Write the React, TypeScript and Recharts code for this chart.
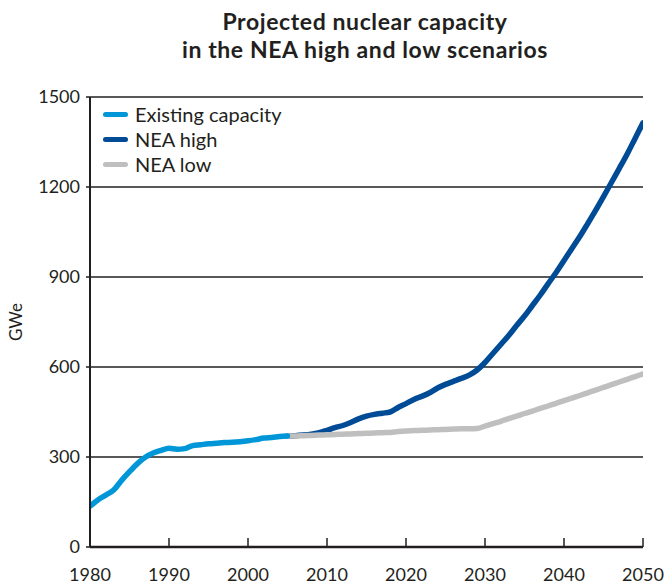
import { LineChart, Line, XAxis, YAxis, CartesianGrid } from "recharts";

const existingYears = [
  1980, 1981, 1982, 1983, 1984, 1985, 1986, 1987, 1988, 1989, 1990, 1991, 1992,
  1993, 1994, 1995, 1996, 1997, 1998, 1999, 2000, 2001, 2002, 2003, 2004, 2005,
];
const existingValues = [
  136, 157, 173, 190, 222, 251, 278, 299, 313, 322, 329, 326, 328, 338, 341, 344,
  346, 348, 349, 351, 354, 358, 363, 365, 368, 370,
];

const projectionYears = [
  2005, 2006, 2007, 2008, 2009, 2010, 2011, 2012, 2013, 2014, 2015, 2016, 2017,
  2018, 2019, 2020, 2021, 2022, 2023, 2024, 2025, 2026, 2027, 2028, 2029, 2030,
  2031, 2032, 2033, 2034, 2035, 2036, 2037, 2038, 2039, 2040, 2041, 2042, 2043,
  2044, 2045, 2046, 2047, 2048, 2049, 2050,
];
const highValues = [
  370, 371, 373, 376, 381, 389, 398, 405, 415, 427, 436, 442, 446, 450, 465, 478,
  492, 502, 514, 530, 542, 552, 562, 573, 590, 615, 645, 675, 705, 738, 770, 805,
  840, 878, 915, 955, 995, 1035, 1078, 1122, 1168, 1215, 1262, 1310, 1362, 1414,
];
const lowValues = [
  370, 370, 371, 372, 373, 374, 375, 376, 377, 378, 379, 380, 381, 382, 385, 387,
  388, 389, 390, 391, 392, 393, 394, 394, 395, 403, 411, 419, 428, 436, 445, 453,
  462, 470, 479, 488, 496, 505, 514, 523, 532, 541, 550, 559, 568, 577,
];

const xTicks = [1980, 1990, 2000, 2010, 2020, 2030, 2040, 2050];
const yTicks = [0, 300, 600, 900, 1200, 1500];

const seriesNames = ["Existing capacity", "NEA high", "NEA low"];
const seriesColors = ["#0096d8", "#004b96", "#bfbfbf"];

const titleLines = ["Projected nuclear capacity", "in the NEA high and low scenarios"];

const FONT = "Lato, 'Noto Sans', sans-serif";
const INK = "#231f20";

type Row = { year: number; existing?: number; high?: number; low?: number };

const rowMap = new Map<number, Row>();
existingYears.forEach((y, i) => {
  rowMap.set(y, { ...(rowMap.get(y) || { year: y }), existing: existingValues[i] });
});
projectionYears.forEach((y, i) => {
  rowMap.set(y, {
    ...(rowMap.get(y) || { year: y }),
    high: highValues[i],
    low: lowValues[i],
  });
});
const data: Row[] = Array.from(rowMap.values()).sort((a, b) => a.year - b.year);

const TICK_MARGIN = 28;

function XTick(props: any) {
  const { x, y, payload } = props;
  const axisY = y - TICK_MARGIN;
  return (
    <g>
      <line x1={x} x2={x} y1={axisY} y2={axisY - 9} stroke={INK} strokeWidth={1.5} />
      <text x={x} y={y} dy="0.35em" textAnchor="middle" fontSize={18} fill={INK} fontFamily={FONT}>
        {payload.value}
      </text>
    </g>
  );
}

function LegendBox() {
  return (
    <div
      style={{
        position: "absolute",
        left: 103,
        top: 102,
        fontFamily: FONT,
        fontSize: 20,
        color: INK,
        lineHeight: "25px",
      }}
    >
      {seriesNames.map((name, i) => (
        <div key={name} style={{ display: "flex", alignItems: "center" }}>
          <span
            style={{
              display: "inline-block",
              width: 25,
              height: 5,
              borderRadius: 3,
              background: seriesColors[i],
              marginRight: 7,
            }}
          />
          {name}
        </div>
      ))}
    </div>
  );
}

export default function App() {
  return (
    <div style={{ position: "absolute", left: 0, top: 0, width: 664, height: 584, background: "#fff" }}>
      <LineChart
        width={664}
        height={584}
        data={data}
        margin={{ top: 97, right: 21, bottom: 0, left: 0 }}
      >
        <CartesianGrid vertical={false} stroke={INK} strokeWidth={1.5} />
        <XAxis
          dataKey="year"
          type="number"
          domain={[1980, 2050]}
          ticks={xTicks}
          height={37}
          tickSize={0}
          tickMargin={TICK_MARGIN}
          tick={<XTick />}
          axisLine={{ stroke: INK, strokeWidth: 2.5 }}
          allowDataOverflow
        />
        <YAxis
          type="number"
          domain={[0, 1500]}
          ticks={yTicks}
          width={90}
          tickSize={4}
          tickMargin={6}
          tick={{ fontSize: 18, fill: INK, fontFamily: FONT }}
          tickLine={{ stroke: INK, strokeWidth: 1.5 }}
          axisLine={{ stroke: INK, strokeWidth: 2 }}
          label={{
            value: "GWe",
            angle: -90,
            position: "insideLeft",
            offset: 16,
            style: { fontSize: 17, fill: INK, fontFamily: FONT, textAnchor: "middle" },
          }}
        />
        <Line
          dataKey="high"
          name={seriesNames[1]}
          type="monotone"
          stroke={seriesColors[1]}
          strokeWidth={5.5}
          strokeLinecap="round"
          strokeLinejoin="round"
          dot={false}
          isAnimationActive={false}
        />
        <Line
          dataKey="low"
          name={seriesNames[2]}
          type="monotone"
          stroke={seriesColors[2]}
          strokeWidth={5.5}
          strokeLinecap="round"
          strokeLinejoin="round"
          dot={false}
          isAnimationActive={false}
        />
        <Line
          dataKey="existing"
          name={seriesNames[0]}
          type="monotone"
          stroke={seriesColors[0]}
          strokeWidth={5.5}
          strokeLinecap="round"
          strokeLinejoin="round"
          dot={false}
          isAnimationActive={false}
        />
      </LineChart>
      <LegendBox />
      <div
        style={{
          position: "absolute",
          left: 65,
          top: 7,
          width: 600,
          textAlign: "center",
          fontFamily: FONT,
          fontWeight: 700,
          fontSize: 23,
          letterSpacing: 0.6,
          lineHeight: "28px",
          color: INK,
        }}
      >
        {titleLines.map((t) => (
          <div key={t}>{t}</div>
        ))}
      </div>
    </div>
  );
}
